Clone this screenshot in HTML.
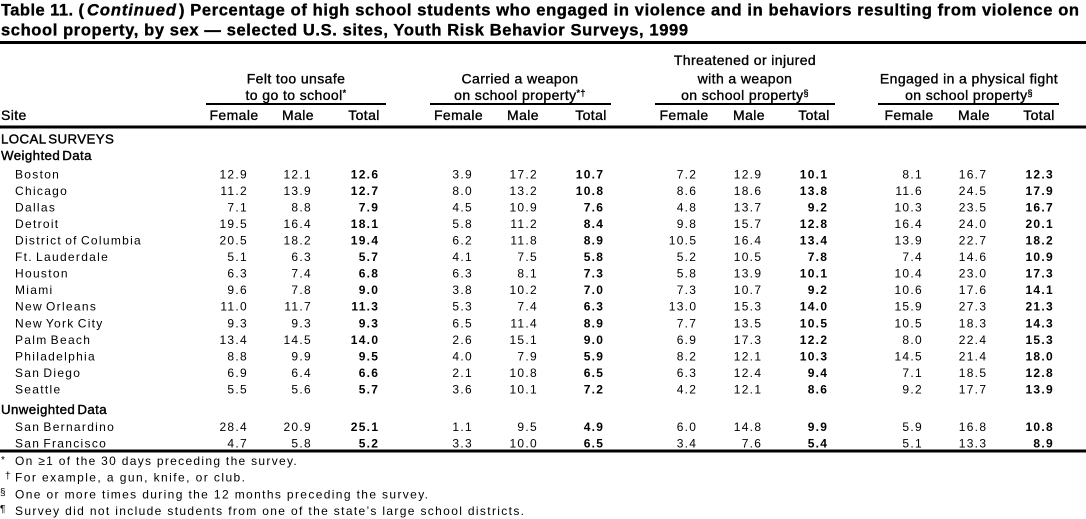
<!DOCTYPE html>
<html>
<head>
<meta charset="utf-8">
<style>
  html, body { margin: 0; padding: 0; background: #fff; }
  body { width: 1086px; height: 519px; overflow: hidden; }
  svg { display: block; }
  text { font-family: "Liberation Sans", Arial, Helvetica, sans-serif; fill: #000; }
  .t { font-size: 16.5px; font-weight: bold; stroke: #000; stroke-width: 0.35; }
  .h { font-size: 14px; letter-spacing: 0.4px; stroke: #000; stroke-width: 0.35; }
  .s { font-size: 13.3px; letter-spacing: 0.4px; stroke: #000; stroke-width: 0.4; word-spacing: -2px; }
  .n { font-size: 12px; letter-spacing: 1.3px; word-spacing: -1.5px; }
  .d { font-size: 12px; letter-spacing: 1.3px; }
  .b { font-weight: bold; }
  .f { font-size: 12px; }
  .m { font-size: 10px; }
  .sup { font-size: 9px; }
</style>
</head>
<body>
<svg width="1086" height="519" viewBox="0 0 1086 519" xmlns="http://www.w3.org/2000/svg">
  <!-- Title -->
  <text class="t" x="1" y="15.5" textLength="83">Table 11. (</text>
  <text class="t" x="87" y="15.5" textLength="89" font-style="italic">Continued</text>
  <text class="t" x="179" y="15.5" textLength="900">) Percentage of high school students who engaged in violence and in behaviors resulting from violence on</text>
  <text class="t" x="1" y="35.5" textLength="687">school property, by sex — selected U.S. sites, Youth Risk Behavior Surveys, 1999</text>

  <!-- Rules -->
  <rect x="0" y="41" width="1086" height="3" fill="#000"/>
  <rect x="0" y="125.5" width="1086" height="3" fill="#000"/>
  <rect x="0" y="449.5" width="1086" height="3" fill="#000"/>

  <!-- Group underlines -->
  <rect x="206" y="103" width="180" height="2" fill="#000"/>
  <rect x="430" y="103" width="181" height="2" fill="#000"/>
  <rect x="655" y="103" width="180" height="2" fill="#000"/>
  <rect x="878" y="103" width="181" height="2" fill="#000"/>

  <!-- Group headers -->
  <g class="h" text-anchor="middle">
    <text x="296" y="83.5">Felt too unsafe</text>
    <text x="296" y="100">to go to school<tspan class="sup" dy="-4">*</tspan></text>
    <text x="520" y="83.5">Carried a weapon</text>
    <text x="520" y="100">on school property<tspan class="sup" dy="-4">*†</tspan></text>
    <text x="745" y="65">Threatened or injured</text>
    <text x="745" y="83.5">with a weapon</text>
    <text x="745" y="100">on school property<tspan class="sup" dy="-4">§</tspan></text>
    <text x="969" y="83.5">Engaged in a physical fight</text>
    <text x="969" y="100">on school property<tspan class="sup" dy="-4">§</tspan></text>
  </g>

  <!-- Column labels -->
  <text class="h" y="120" text-anchor="middle"><tspan x="234">Female</tspan><tspan x="298">Male</tspan><tspan x="364">Total</tspan><tspan x="458.5">Female</tspan><tspan x="523">Male</tspan><tspan x="591">Total</tspan><tspan x="684">Female</tspan><tspan x="749">Male</tspan><tspan x="814">Total</tspan><tspan x="909">Female</tspan><tspan x="974">Male</tspan><tspan x="1039">Total</tspan></text>
  <text class="h" x="1" y="120">Site</text>

  <!-- Section labels -->
  <text class="s" x="1" y="143.5">LOCAL SURVEYS</text>
  <text class="s" x="1" y="160">Weighted Data</text>
  <text class="s" x="1" y="414">Unweighted Data</text>

  <!-- Site names -->
  <g class="n">
    <text x="15" y="178.3">Boston</text>
    <text x="15" y="194.85">Chicago</text>
    <text x="15" y="211.4">Dallas</text>
    <text x="15" y="227.95">Detroit</text>
    <text x="15" y="244.5">District of Columbia</text>
    <text x="15" y="261.05">Ft. Lauderdale</text>
    <text x="15" y="277.6">Houston</text>
    <text x="15" y="294.15">Miami</text>
    <text x="15" y="310.7">New Orleans</text>
    <text x="15" y="327.25">New York City</text>
    <text x="15" y="343.8">Palm Beach</text>
    <text x="15" y="360.35">Philadelphia</text>
    <text x="15" y="376.9">San Diego</text>
    <text x="15" y="393.45">Seattle</text>
    <text x="15" y="430.8">San Bernardino</text>
    <text x="15" y="447.3">San Francisco</text>
  </g>

  <!-- Data -->
  <g class="d" text-anchor="end">
    <text y="178.3"><tspan x="248">12.9</tspan><tspan x="312">12.1</tspan><tspan x="379.3" class="b">12.6</tspan><tspan x="473">3.9</tspan><tspan x="538">17.2</tspan><tspan x="604.3" class="b">10.7</tspan><tspan x="697.3">7.2</tspan><tspan x="762.3">12.9</tspan><tspan x="828.3" class="b">10.1</tspan><tspan x="923">8.1</tspan><tspan x="987.3">16.7</tspan><tspan x="1054" class="b">12.3</tspan></text>
    <text y="194.85"><tspan x="248">11.2</tspan><tspan x="312">13.9</tspan><tspan x="379.3" class="b">12.7</tspan><tspan x="473">8.0</tspan><tspan x="538">13.2</tspan><tspan x="604.3" class="b">10.8</tspan><tspan x="697.3">8.6</tspan><tspan x="762.3">18.6</tspan><tspan x="828.3" class="b">13.8</tspan><tspan x="923">11.6</tspan><tspan x="987.3">24.5</tspan><tspan x="1054" class="b">17.9</tspan></text>
    <text y="211.4"><tspan x="248">7.1</tspan><tspan x="312">8.8</tspan><tspan x="379.3" class="b">7.9</tspan><tspan x="473">4.5</tspan><tspan x="538">10.9</tspan><tspan x="604.3" class="b">7.6</tspan><tspan x="697.3">4.8</tspan><tspan x="762.3">13.7</tspan><tspan x="828.3" class="b">9.2</tspan><tspan x="923">10.3</tspan><tspan x="987.3">23.5</tspan><tspan x="1054" class="b">16.7</tspan></text>
    <text y="227.95"><tspan x="248">19.5</tspan><tspan x="312">16.4</tspan><tspan x="379.3" class="b">18.1</tspan><tspan x="473">5.8</tspan><tspan x="538">11.2</tspan><tspan x="604.3" class="b">8.4</tspan><tspan x="697.3">9.8</tspan><tspan x="762.3">15.7</tspan><tspan x="828.3" class="b">12.8</tspan><tspan x="923">16.4</tspan><tspan x="987.3">24.0</tspan><tspan x="1054" class="b">20.1</tspan></text>
    <text y="244.5"><tspan x="248">20.5</tspan><tspan x="312">18.2</tspan><tspan x="379.3" class="b">19.4</tspan><tspan x="473">6.2</tspan><tspan x="538">11.8</tspan><tspan x="604.3" class="b">8.9</tspan><tspan x="697.3">10.5</tspan><tspan x="762.3">16.4</tspan><tspan x="828.3" class="b">13.4</tspan><tspan x="923">13.9</tspan><tspan x="987.3">22.7</tspan><tspan x="1054" class="b">18.2</tspan></text>
    <text y="261.05"><tspan x="248">5.1</tspan><tspan x="312">6.3</tspan><tspan x="379.3" class="b">5.7</tspan><tspan x="473">4.1</tspan><tspan x="538">7.5</tspan><tspan x="604.3" class="b">5.8</tspan><tspan x="697.3">5.2</tspan><tspan x="762.3">10.5</tspan><tspan x="828.3" class="b">7.8</tspan><tspan x="923">7.4</tspan><tspan x="987.3">14.6</tspan><tspan x="1054" class="b">10.9</tspan></text>
    <text y="277.6"><tspan x="248">6.3</tspan><tspan x="312">7.4</tspan><tspan x="379.3" class="b">6.8</tspan><tspan x="473">6.3</tspan><tspan x="538">8.1</tspan><tspan x="604.3" class="b">7.3</tspan><tspan x="697.3">5.8</tspan><tspan x="762.3">13.9</tspan><tspan x="828.3" class="b">10.1</tspan><tspan x="923">10.4</tspan><tspan x="987.3">23.0</tspan><tspan x="1054" class="b">17.3</tspan></text>
    <text y="294.15"><tspan x="248">9.6</tspan><tspan x="312">7.8</tspan><tspan x="379.3" class="b">9.0</tspan><tspan x="473">3.8</tspan><tspan x="538">10.2</tspan><tspan x="604.3" class="b">7.0</tspan><tspan x="697.3">7.3</tspan><tspan x="762.3">10.7</tspan><tspan x="828.3" class="b">9.2</tspan><tspan x="923">10.6</tspan><tspan x="987.3">17.6</tspan><tspan x="1054" class="b">14.1</tspan></text>
    <text y="310.7"><tspan x="248">11.0</tspan><tspan x="312">11.7</tspan><tspan x="379.3" class="b">11.3</tspan><tspan x="473">5.3</tspan><tspan x="538">7.4</tspan><tspan x="604.3" class="b">6.3</tspan><tspan x="697.3">13.0</tspan><tspan x="762.3">15.3</tspan><tspan x="828.3" class="b">14.0</tspan><tspan x="923">15.9</tspan><tspan x="987.3">27.3</tspan><tspan x="1054" class="b">21.3</tspan></text>
    <text y="327.25"><tspan x="248">9.3</tspan><tspan x="312">9.3</tspan><tspan x="379.3" class="b">9.3</tspan><tspan x="473">6.5</tspan><tspan x="538">11.4</tspan><tspan x="604.3" class="b">8.9</tspan><tspan x="697.3">7.7</tspan><tspan x="762.3">13.5</tspan><tspan x="828.3" class="b">10.5</tspan><tspan x="923">10.5</tspan><tspan x="987.3">18.3</tspan><tspan x="1054" class="b">14.3</tspan></text>
    <text y="343.8"><tspan x="248">13.4</tspan><tspan x="312">14.5</tspan><tspan x="379.3" class="b">14.0</tspan><tspan x="473">2.6</tspan><tspan x="538">15.1</tspan><tspan x="604.3" class="b">9.0</tspan><tspan x="697.3">6.9</tspan><tspan x="762.3">17.3</tspan><tspan x="828.3" class="b">12.2</tspan><tspan x="923">8.0</tspan><tspan x="987.3">22.4</tspan><tspan x="1054" class="b">15.3</tspan></text>
    <text y="360.35"><tspan x="248">8.8</tspan><tspan x="312">9.9</tspan><tspan x="379.3" class="b">9.5</tspan><tspan x="473">4.0</tspan><tspan x="538">7.9</tspan><tspan x="604.3" class="b">5.9</tspan><tspan x="697.3">8.2</tspan><tspan x="762.3">12.1</tspan><tspan x="828.3" class="b">10.3</tspan><tspan x="923">14.5</tspan><tspan x="987.3">21.4</tspan><tspan x="1054" class="b">18.0</tspan></text>
    <text y="376.9"><tspan x="248">6.9</tspan><tspan x="312">6.4</tspan><tspan x="379.3" class="b">6.6</tspan><tspan x="473">2.1</tspan><tspan x="538">10.8</tspan><tspan x="604.3" class="b">6.5</tspan><tspan x="697.3">6.3</tspan><tspan x="762.3">12.4</tspan><tspan x="828.3" class="b">9.4</tspan><tspan x="923">7.1</tspan><tspan x="987.3">18.5</tspan><tspan x="1054" class="b">12.8</tspan></text>
    <text y="393.45"><tspan x="248">5.5</tspan><tspan x="312">5.6</tspan><tspan x="379.3" class="b">5.7</tspan><tspan x="473">3.6</tspan><tspan x="538">10.1</tspan><tspan x="604.3" class="b">7.2</tspan><tspan x="697.3">4.2</tspan><tspan x="762.3">12.1</tspan><tspan x="828.3" class="b">8.6</tspan><tspan x="923">9.2</tspan><tspan x="987.3">17.7</tspan><tspan x="1054" class="b">13.9</tspan></text>
    <text y="430.8"><tspan x="248">28.4</tspan><tspan x="312">20.9</tspan><tspan x="379.3" class="b">25.1</tspan><tspan x="473">1.1</tspan><tspan x="538">9.5</tspan><tspan x="604.3" class="b">4.9</tspan><tspan x="697.3">6.0</tspan><tspan x="762.3">14.8</tspan><tspan x="828.3" class="b">9.9</tspan><tspan x="923">5.9</tspan><tspan x="987.3">16.8</tspan><tspan x="1054" class="b">10.8</tspan></text>
    <text y="447.3"><tspan x="248">4.7</tspan><tspan x="312">5.8</tspan><tspan x="379.3" class="b">5.2</tspan><tspan x="473">3.3</tspan><tspan x="538">10.0</tspan><tspan x="604.3" class="b">6.5</tspan><tspan x="697.3">3.4</tspan><tspan x="762.3">7.6</tspan><tspan x="828.3" class="b">5.4</tspan><tspan x="923">5.1</tspan><tspan x="987.3">13.3</tspan><tspan x="1054" class="b">8.9</tspan></text>
  </g>

  <!-- Footnotes -->
  <text class="m" x="1" y="463">*</text>
  <text class="f" x="15" y="465" textLength="281.7">On ≥1 of the 30 days preceding the survey.</text>
  <text class="m" x="5" y="479">†</text>
  <text class="f" x="15" y="481.7" textLength="230">For example, a gun, knife, or club.</text>
  <text class="m" x="0" y="495.5">§</text>
  <text class="f" x="15" y="498.3" textLength="413">One or more times during the 12 months preceding the survey.</text>
  <text class="m" x="0" y="512">¶</text>
  <text class="f" x="15" y="515" textLength="509">Survey did not include students from one of the state’s large school districts.</text>
</svg>
</body>
</html>
